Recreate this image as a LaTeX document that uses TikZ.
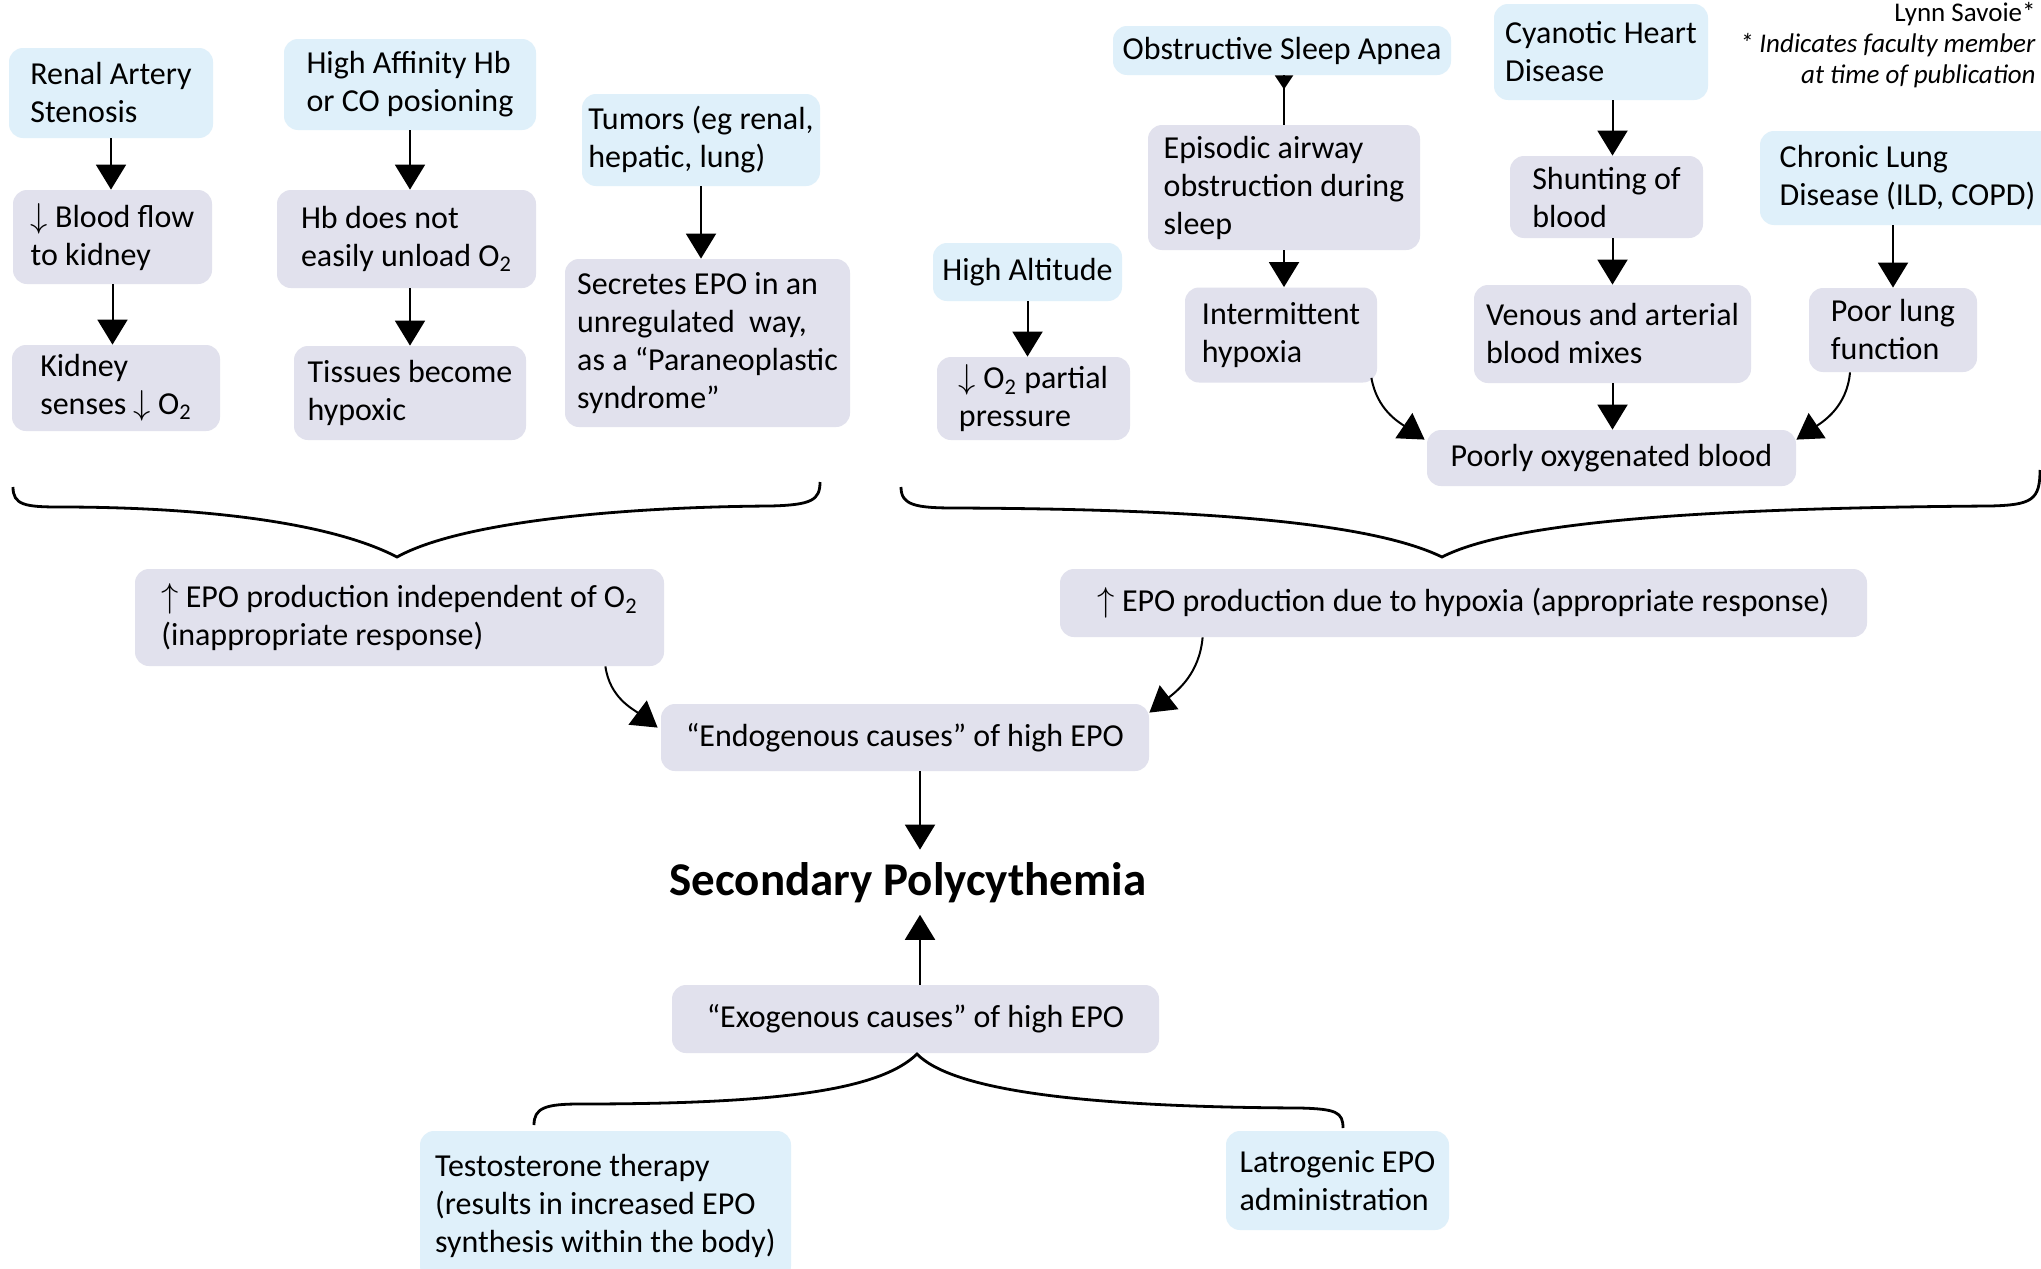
\documentclass[tikz,border=0pt]{standalone}
\usepackage{fontspec}
\setmainfont{Carlito}
\usetikzlibrary{arrows.meta}

\definecolor{causeblue}{RGB}{223,240,250}
\definecolor{stepgrey}{RGB}{225,225,237}

\tikzstyle{box}    = [rectangle, rounded corners=7pt, align=left
                     , inner sep=0pt, font=\fontsize{16}{19}\selectfont]
\tikzstyle{cause}  = [box, fill=causeblue]
\tikzstyle{effect} = [box, fill=stepgrey]
\tikzstyle{link}   = [-{Triangle[length=12.5pt,width=15pt]}, line width=1pt]
\tikzstyle{curly}  = [line width=1.4pt]

\begin{document}
\begin{tikzpicture}[x=0.5pt, y=-0.5pt]

\path [use as bounding box, fill=white] (0,0) rectangle (2041,1269);

%% Renal Artery column
\node [cause, minimum width=102pt, minimum height=45pt] (renal) at (111,93) {Renal Artery\\Stenosis};
\node [effect, minimum width=99.5pt, minimum height=47pt] (bloodflow) at (112.5,237) {$\downarrow$ Blood flow\\to kidney};
\node [effect, minimum width=104pt, minimum height=43pt] (kidney) at (116,388) {Kidney\\senses $\downarrow$ O\textsubscript{2}};

%% High Affinity column
\node [cause, minimum width=126pt, minimum height=45.5pt] (affinity) at (410,84.5) {High Affinity Hb\\or CO posioning};
\node [effect, minimum width=129.5pt, minimum height=49pt] (unload) at (406.5,239) {Hb does not\\easily unload O\textsubscript{2}};
\node [effect, minimum width=116pt, minimum height=47pt] (tissues) at (410,393) {Tissues become\\hypoxic};

%% Tumors column
\node [cause, minimum width=119pt, minimum height=46pt] (tumors) at (701,140) {Tumors (eg renal,\\hepatic, lung)};
\node [effect, minimum width=142.5pt, minimum height=84pt] (secretes) at (707.5,343) {Secretes EPO in an\\unregulated\ \ way,\\as a “Paraneoplastic\\syndrome”};

%% High Altitude column
\node [cause, minimum width=94.5pt, minimum height=29pt] (altitude) at (1027.5,272) {High Altitude};
\node [effect, minimum width=96.5pt, minimum height=41.5pt] (partial) at (1033.5,398.5) {$\downarrow$ O\textsubscript{2} partial\\pressure};

%% Sleep Apnea column
\node [cause, minimum width=169pt, minimum height=24.5pt] (apnea) at (1282,50.5) {Obstructive Sleep Apnea};
\node [effect, minimum width=136pt, minimum height=62.5pt] (episodic) at (1284,187.5) {Episodic airway\\obstruction during\\sleep};
\node [effect, minimum width=96pt, minimum height=47.5pt] (intermittent) at (1281,335) {Intermittent\\hypoxia};

%% Cyanotic Heart column
\node [cause, minimum width=107pt, minimum height=48pt] (cyanotic) at (1601,52) {Cyanotic Heart\\Disease};
\node [effect, minimum width=96.5pt, minimum height=41pt] (shunting) at (1606.5,197) {Shunting of\\blood};
\node [effect, minimum width=138.5pt, minimum height=49pt] (venous) at (1612.5,334) {Venous and arterial\\blood mixes};
\node [effect, minimum width=184.5pt, minimum height=28pt] (poorly) at (1611.5,458) {Poorly oxygenated blood};

%% Chronic Lung column
\node [cause, minimum width=147.5pt, minimum height=47pt] (chronic) at (1907.5,178) {Chronic Lung\\Disease (ILD, COPD)};
\node [effect, minimum width=84pt, minimum height=42pt] (poorlung) at (1893,330) {Poor lung\\function};

%% Author note
\node [anchor=north east, align=right, inner sep=0pt, font=\fontsize{13.5}{15.5}\selectfont] (author) at (2036,2) {Lynn Savoie*\\\textit{* Indicates faculty member}\\\textit{at time of publication}};

%% EPO nodes
\node [effect, minimum width=264.5pt, minimum height=48.5pt] (independent) at (399.5,617.5) {$\uparrow$ EPO production independent of O\textsubscript{2}\\(inappropriate response)};
\node [effect, minimum width=403.5pt, minimum height=34pt] (hypoxia) at (1463.5,603) {$\uparrow$ EPO production due to hypoxia (appropriate response)};
\node [effect, minimum width=244pt, minimum height=33.5pt] (endogenous) at (905,737.5) {“Endogenous causes” of high EPO};
\node [anchor=base, inner xsep=3pt, inner ysep=6pt, font=\bfseries\fontsize{23.5}{28}\selectfont] (polycythemia) at (908,895) {Secondary Polycythemia};
\node [effect, minimum width=243.5pt, minimum height=34pt] (exogenous) at (915.5,1019) {“Exogenous causes” of high EPO};

%% Exogenous causes
\node [cause, minimum width=185.5pt, minimum height=74.5pt] (testosterone) at (605.5,1205.5) {Testosterone therapy\\(results in increased EPO\\synthesis within the body)};
\node [cause, minimum width=111.5pt, minimum height=49.5pt] (iatrogenic) at (1337.5,1180.5) {Latrogenic EPO\\administration};

%% Straight arrows
\draw [link] (renal.south) -- (renal.south |- bloodflow.north);
\draw [link] (bloodflow.south) -- (bloodflow.south |- kidney.north);
\draw [link] (affinity.south) -- (affinity.south |- unload.north);
\draw [link] (unload.south -| affinity.south) -- (tissues.north -| affinity.south);
\draw [link] (tumors.south) -- (tumors.south |- secretes.north);
\draw [link] (altitude.south) -- (altitude.south |- partial.north);
\draw [line width=1pt] (apnea.south -| episodic.north) -- (episodic.north);
\draw [-{Triangle[length=7pt,width=9pt]}, line width=1pt] (apnea.south -| episodic.north) -- ++(0,14);
\draw [link] (episodic.south) -- (episodic.south |- intermittent.north);
\draw [link] (cyanotic.south -| venous.north) -- (shunting.north -| venous.north);
\draw [link] (shunting.south -| venous.north) -- (venous.north);
\draw [link] (venous.south) -- (venous.south |- poorly.north);
\draw [link] (chronic.south -| poorlung.north) -- (poorlung.north);
\draw [link] ([xshift=6pt]endogenous.south -| polycythemia.north) -- ([xshift=6pt]polycythemia.north);
\draw [link] ([xshift=6pt]exogenous.north -| polycythemia.south) -- ([xshift=6pt]polycythemia.south);

%% Curved arrows
\draw [link] ([xshift=-3pt, yshift=2.5pt]intermittent.south east) to [out=-80, in=146] ([xshift=-1pt, yshift=-5pt]poorly.north west);
\draw [link] ([xshift=-21.5pt]poorlung.south) to [out=-95, in=34] ([yshift=-5pt]poorly.north east);
\draw [link] ([xshift=-29.5pt]independent.south east) to [out=-82, in=143] ([xshift=-1.5pt, yshift=-12pt]endogenous.north west);
\draw [link] ([xshift=71.5pt]hypoxia.south west) to [out=-95, in=38] ([yshift=-4.5pt]endogenous.north east);

%% Braces
\draw [curly] (13,487) .. controls (13,505) and (25,507) .. (60,507)
  .. controls (200,507) and (330,522) .. (397,557)
  .. controls (460,522) and (620,507) .. (770,506)
  .. controls (812,505) and (820,500) .. (820,482);
\draw [curly] (901,487) .. controls (901,505) and (915,508) .. (955,508)
  .. controls (1200,509) and (1370,522) .. (1442,557)
  .. controls (1510,522) and (1700,508) .. (1990,506)
  .. controls (2032,505) and (2040,500) .. (2040,470);
\draw [curly] (534,1125) .. controls (534,1108) and (545,1104) .. (580,1104)
  .. controls (780,1104) and (880,1090) .. (917,1054)
  .. controls (952,1090) and (1080,1107) .. (1300,1108)
  .. controls (1336,1109) and (1343,1112) .. (1343,1128);

\end{tikzpicture}
\end{document}
